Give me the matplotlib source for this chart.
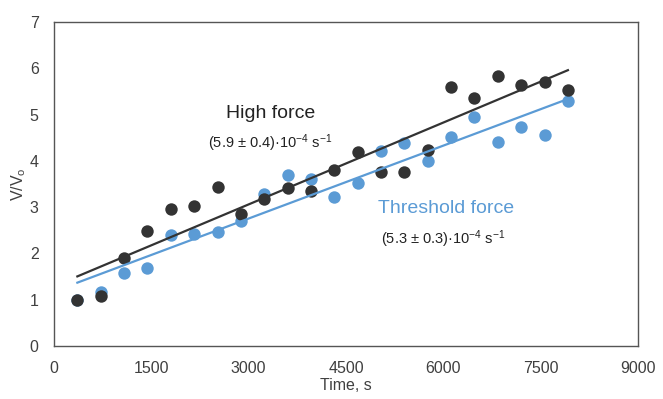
import numpy as np
import matplotlib
matplotlib.use("Agg")
import matplotlib.pyplot as plt

plt.rcParams['font.family'] = ['Liberation Sans', 'DejaVu Sans']
plt.rcParams['mathtext.fontset'] = 'custom'
plt.rcParams['mathtext.rm'] = 'Liberation Sans'
plt.rcParams['mathtext.it'] = 'Liberation Sans'

time_high = [360, 720, 1080, 1440, 1800, 2160, 2520, 2880, 3240, 3600, 3960,
             4320, 4680, 5040, 5400, 5760, 6120, 6480, 6840, 7200, 7560, 7920]
vv_high = [1.00, 1.07, 1.90, 2.49, 2.95, 3.03, 3.44, 2.86, 3.17, 3.41, 3.34,
           3.81, 4.20, 3.76, 3.77, 4.23, 5.59, 5.36, 5.83, 5.64, 5.70, 5.54]

time_thr = [360, 720, 1080, 1440, 1800, 2160, 2520, 2880, 3240, 3600, 3960,
            4320, 4680, 5040, 5400, 5760, 6120, 6480, 6840, 7200, 7560, 7920]
vv_thr = [1.00, 1.16, 1.57, 1.69, 2.39, 2.43, 2.46, 2.70, 3.29, 3.69, 3.60,
          3.21, 3.53, 4.21, 4.39, 4.00, 4.51, 4.94, 4.41, 4.73, 4.56, 5.29]

x_ticks = [0, 1500, 3000, 4500, 6000, 7500, 9000]
y_ticks = [0, 1, 2, 3, 4, 5, 6, 7]

black = '#333333'
blue = '#5b9bd5'

fig = plt.figure(figsize=(6.63, 3.99), dpi=100)
ax = fig.add_axes([54/663, 53/399, 584/663, 324/399])

ax.scatter(time_thr, vv_thr, s=80, color=blue, zorder=2, linewidths=0)
ax.scatter(time_high, vv_high, s=80, color=black, zorder=3, linewidths=0)

for t, v, c in [(time_high, vv_high, black), (time_thr, vv_thr, blue)]:
    p = np.polyfit(t, v, 1)
    xs = np.array([min(t), max(t)])
    ax.plot(xs, np.polyval(p, xs), color=c, lw=1.6, zorder=4)

ax.set_xlim(0, 9000)
ax.set_ylim(0, 7)
ax.set_xticks(x_ticks)
ax.set_yticks(y_ticks)
ax.tick_params(axis='x', length=0, labelsize=11.5, colors='#404040', pad=11)
ax.tick_params(axis='y', length=0, labelsize=11.5, colors='#404040', pad=11)
for s in ax.spines.values():
    s.set_color('#555555')
    s.set_linewidth(1.0)

ax.set_xlabel('Time, s', fontsize=11.5, color='#404040', labelpad=1)
ax.set_ylabel('V/V$_o$', fontsize=11.5, color='#404040', labelpad=1)

ax.text(3340, 5.03, 'High force', fontsize=14, color='#222222', ha='center', va='center')
ax.text(3340, 4.38, '(5.9 ± 0.4)·10$^{-4}$ s$^{-1}$', fontsize=10.5, color='#222222',
        ha='center', va='center')
ax.text(6040, 2.97, 'Threshold force', fontsize=14, color=blue, ha='center', va='center')
ax.text(6000, 2.3, '(5.3 ± 0.3)·10$^{-4}$ s$^{-1}$', fontsize=10.5, color='#222222',
        ha='center', va='center')

fig.savefig('out.png', dpi=100)
